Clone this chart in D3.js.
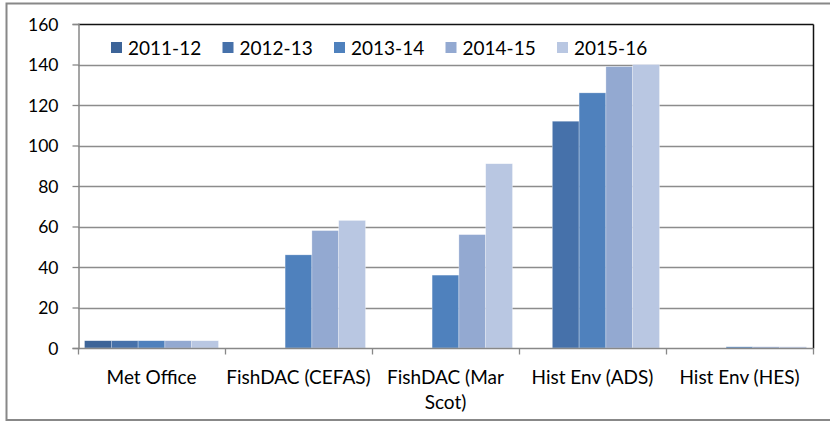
<!DOCTYPE html>
<html>
<head>
<meta charset="utf-8">
<script src="https://cdn.jsdelivr.net/npm/d3@7"></script>
<style>
	body { margin: 0; background: #fff; }
	svg text { font-family: Lato, "Open Sans", sans-serif; fill: #000; }
</style>
</head>
<body>
<svg id="chart" width="830" height="421"></svg>
<script>
// chart data
const categories = ['Met Office', 'FishDAC (CEFAS)', 'FishDAC (Mar Scot)', 'Hist Env (ADS)', 'Hist Env (HES)'];
const years = ['2011-12', '2012-13', '2013-14', '2014-15', '2015-16'];
const metOffice = [3.6, 3.6, 3.6, 3.6, 3.6];
const fishCefas = [0, 0, 46, 58, 63];
const fishMarScot = [0, 0, 36, 56, 91];
const histAds = [0, 112, 126, 139, 140];
const histHes = [0, 0, 0.6, 0.6, 0.6];
const yTicks = [0, 20, 40, 60, 80, 100, 120, 140, 160];
const colors = ['#3d6498', '#4671aa', '#4f81bd', '#93a9d1', '#b9c7e2'];

const seriesByCategory = [metOffice, fishCefas, fishMarScot, histAds, histHes];

const width = 830;
const height = 421;
const margin = {top: 24, right: 17, bottom: 73, left: 78};

let svg = d3.select('#chart');

// outer chart border
svg.append('rect')
	.attr('x', 6.5)
	.attr('y', 3.5)
	.attr('width', width)
	.attr('height', height - 4.5)
	.attr('fill', 'none')
	.attr('stroke', '#888')
	.attr('stroke-width', 2);

let x = d3.scaleBand()
	.domain(categories)
	.range([margin.left, width - margin.right])
	.paddingInner(0)
	.paddingOuter(0);

let x1 = d3.scaleBand()
	.domain(years)
	.range([6.5, x.bandwidth() - 6.5]);

let y = d3.scaleLinear()
	.domain([0, 160])
	.range([height - margin.bottom, margin.top]);

// gridlines
svg.append('g')
	.selectAll('line')
	.data(yTicks.slice(1, -1))
	.enter()
	.append('line')
	.attr('x1', margin.left)
	.attr('x2', width - margin.right)
	.attr('y1', d => Math.round(y(d)) + 0.5)
	.attr('y2', d => Math.round(y(d)) + 0.5)
	.attr('stroke', '#8c8c8c')
	.attr('stroke-width', 1.3);

// bars
let groups = svg.append('g')
	.selectAll('g')
	.data(categories)
	.enter()
	.append('g')
	.attr('transform', d => `translate(${x(d)},0)`);

groups.selectAll('rect')
	.data((d, i) => seriesByCategory[i].map((v, j) => ({year: years[j], value: v, idx: j})))
	.enter()
	.append('rect')
	.attr('x', d => x1(d.year))
	.attr('width', x1.bandwidth())
	.attr('y', d => y(d.value))
	.attr('height', d => y(0) - y(d.value))
	.attr('fill', d => colors[d.idx])
	.attr('stroke', 'rgba(255,255,255,0.5)')
	.attr('stroke-width', 0.6);

// plot frame: top and right dark, left and bottom grey
let frameTop = margin.top + 0.5;
let frameRight = width - margin.right + 0.5;
let frameBottom = Math.round(y(0)) + 0.5;
svg.append('line')
	.attr('x1', margin.left).attr('x2', frameRight)
	.attr('y1', frameTop).attr('y2', frameTop)
	.attr('stroke', '#111').attr('stroke-width', 1.5);
svg.append('line')
	.attr('x1', frameRight).attr('x2', frameRight)
	.attr('y1', frameTop).attr('y2', frameBottom)
	.attr('stroke', '#111').attr('stroke-width', 1.5);

// y axis
let yAxis = svg.append('g')
	.attr('transform', `translate(${margin.left + 0.5},0)`)
	.call(d3.axisLeft(y).tickValues(yTicks).tickSize(6).tickPadding(14));
yAxis.select('.domain').attr('stroke', '#888').attr('stroke-width', 1.5);
yAxis.selectAll('.tick line').attr('stroke', '#888').attr('stroke-width', 1.3);
yAxis.selectAll('text').style('font-size', '17.5px').attr('dy', '0.36em');

// x axis, ticks sit on the category boundaries
let xAxis = svg.append('g')
	.attr('transform', `translate(0,${frameBottom})`);
xAxis.append('line')
	.attr('x1', margin.left).attr('x2', frameRight)
	.attr('stroke', '#888').attr('stroke-width', 1.5);
xAxis.selectAll('line.tick')
	.data(categories.map(c => x(c)).concat([x.range()[1]]))
	.enter()
	.append('line')
	.attr('class', 'tick')
	.attr('x1', d => d + 0.5).attr('x2', d => d + 0.5)
	.attr('y1', 0).attr('y2', 6)
	.attr('stroke', '#888').attr('stroke-width', 1.3);

let labels = xAxis.selectAll('text.cat')
	.data(categories)
	.enter()
	.append('text')
	.attr('class', 'cat')
	.attr('x', d => x(d) + x.bandwidth() / 2)
	.attr('y', 35)
	.attr('text-anchor', 'middle')
	.style('font-size', '19px');

// wrap labels that do not fit in their band
labels.each(function(d) {
	let text = d3.select(this);
	let words = d.split(' ');
	let line = [];
	let tspan = text.append('tspan').attr('x', text.attr('x')).attr('dy', 0);
	words.forEach(w => {
		line.push(w);
		tspan.text(line.join(' '));
		if (tspan.node().getComputedTextLength() > x.bandwidth() - 2 && line.length > 1) {
			line.pop();
			tspan.text(line.join(' '));
			line = [w];
			tspan = text.append('tspan').attr('x', text.attr('x')).attr('dy', 25).text(w);
		}
	});
});

// legend
let legendX = d3.scalePoint()
	.domain(years)
	.range([111, 557]);

let legend = svg.append('g')
	.selectAll('g')
	.data(years)
	.enter()
	.append('g')
	.attr('transform', d => `translate(${legendX(d)},42)`);

legend.append('rect')
	.attr('width', 11)
	.attr('height', 11)
	.attr('fill', (d, i) => colors[i]);

legend.append('text')
	.attr('x', 17)
	.attr('y', 6)
	.attr('dy', '0.36em')
	.style('font-size', '19px')
	.text(d => d);
</script>
</body>
</html>
